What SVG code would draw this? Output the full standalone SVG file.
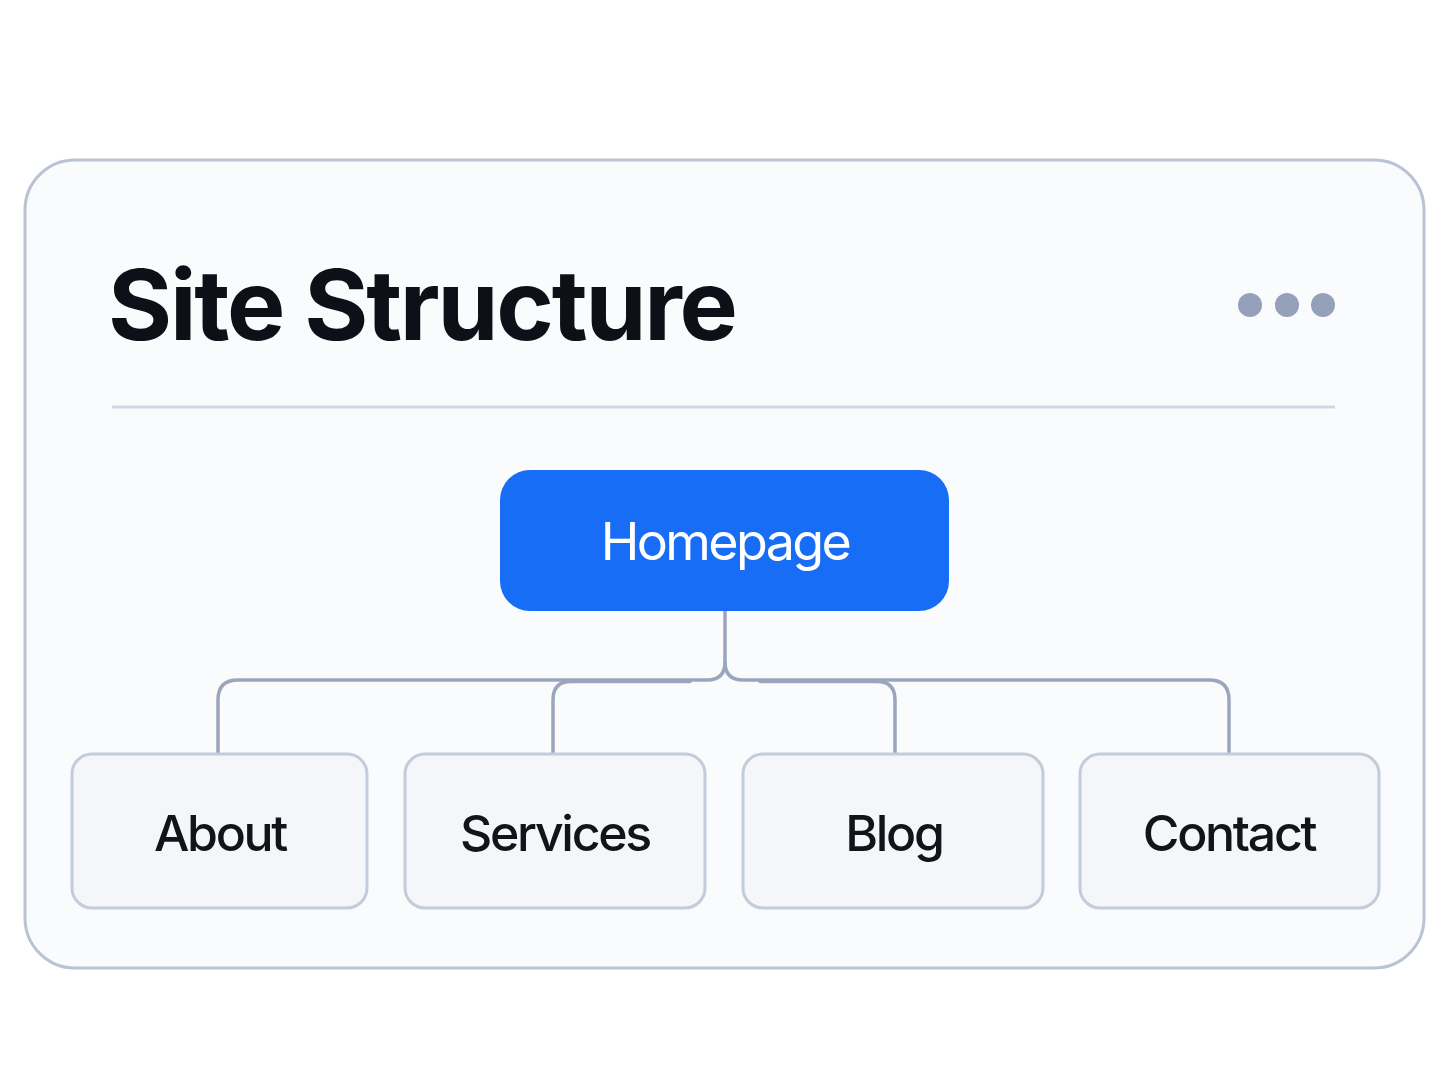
<svg xmlns="http://www.w3.org/2000/svg" width="1448" height="1086" viewBox="0 0 1448 1086">
<style>
.card{fill:#fafbfc;stroke:#b9c3d4;stroke-width:3}
.child rect{fill:#f4f6f9;stroke:#c3ccda;stroke-width:3}
.child text{font-family:Inter,"Liberation Sans",sans-serif;font-size:50px;font-weight:500;fill:#111418;text-anchor:middle;letter-spacing:-2.3px}
.conn path{fill:none;stroke:#9ba6bd;stroke-width:3.5;stroke-linecap:round}
.dot{fill:#95a0bb}
</style>
<rect width="1448" height="1086" fill="#ffffff"/>
<g id="card">
<rect class="card" x="25" y="160" width="1399" height="808" rx="50"/>
<text x="108" y="340" font-family="Inter,'Liberation Sans',sans-serif" font-size="98" font-weight="700" fill="#0d1017" letter-spacing="-3" textLength="627" lengthAdjust="spacing">Site Structure</text>
<circle class="dot" cx="1250" cy="305" r="12"/>
<circle class="dot" cx="1287" cy="305" r="12"/>
<circle class="dot" cx="1323" cy="305" r="12"/>
<line x1="112" y1="407" x2="1335" y2="407" stroke="#d2d8e2" stroke-width="3"/>
</g>
<g class="conn" id="connectors">
<path d="M725 611 V662 Q725 680 707 680 H238 Q218 680 218 700 V754"/>
<path d="M725 662 Q725 680 743 680 H1209 Q1229 680 1229 700 V754"/>
<path d="M690 681.5 H571 Q553 681.5 553 700 V754"/>
<path d="M760 681.5 H877 Q895 681.5 895 700 V754"/>
</g>
<g id="homepage">
<rect x="500" y="470" width="449" height="141" rx="30" fill="#176df6"/>
<text x="725" y="560" font-family="Inter,'Liberation Sans',sans-serif" font-size="52" font-weight="400" fill="#ffffff" text-anchor="middle" letter-spacing="-2.6">Homepage</text>
</g>
<g class="child" id="about">
<rect x="72" y="754" width="295" height="154" rx="20"/>
<text x="220" y="851">About</text>
</g>
<g class="child" id="services">
<rect x="405" y="754" width="300" height="154" rx="20"/>
<text x="555" y="851">Services</text>
</g>
<g class="child" id="blog">
<rect x="743" y="754" width="300" height="154" rx="20"/>
<text x="894" y="851">Blog</text>
</g>
<g class="child" id="contact">
<rect x="1080" y="754" width="299" height="154" rx="20"/>
<text x="1229" y="851">Contact</text>
</g>
</svg>
